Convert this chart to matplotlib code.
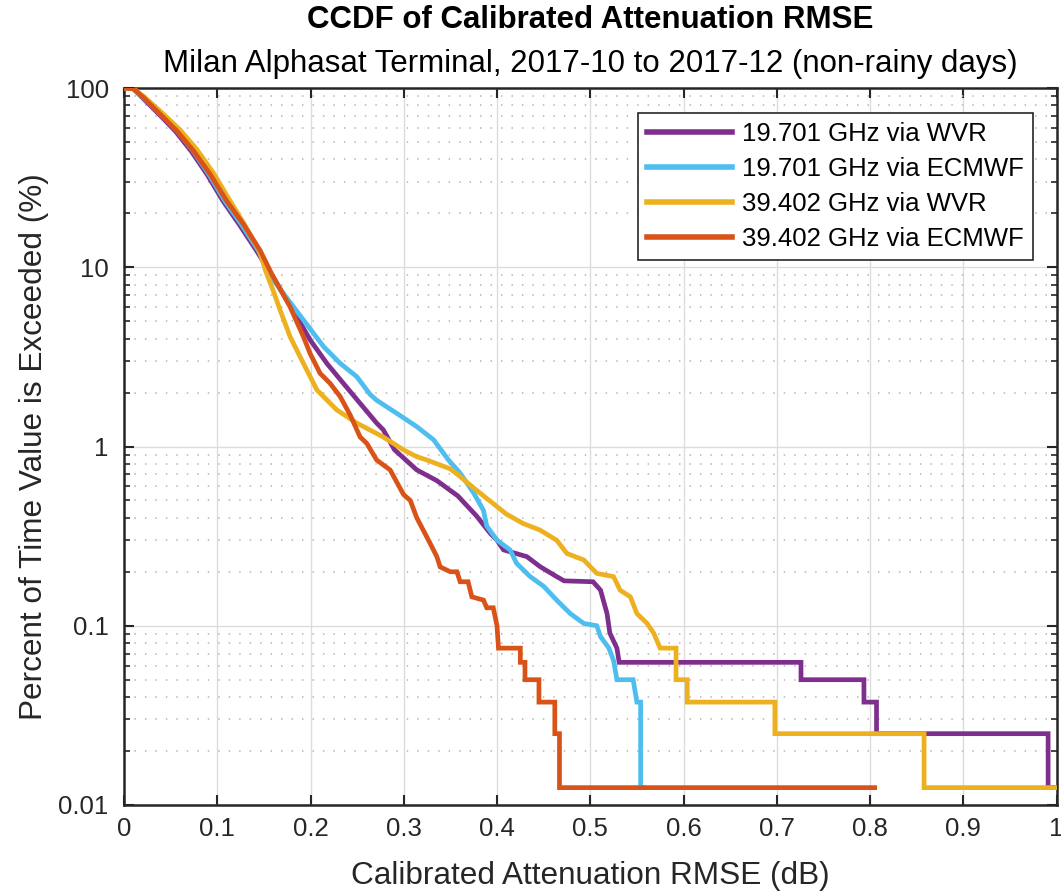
import matplotlib
matplotlib.use("Agg")
import matplotlib.pyplot as plt
from matplotlib.ticker import FixedLocator, LogLocator, NullFormatter

plt.rcParams['font.family'] = ['Liberation Sans', 'DejaVu Sans']

# ---------------- data ----------------
labels = ["19.701 GHz via WVR", "19.701 GHz via ECMWF",
          "39.402 GHz via WVR", "39.402 GHz via ECMWF"]

wvr19_x = [0, 0.01, 0.02, 0.038, 0.055, 0.072, 0.089, 0.106, 0.124, 0.142,
           0.1638, 0.1853, 0.1996, 0.2175, 0.2353, 0.2532, 0.271, 0.278, 0.29,
           0.314, 0.3355, 0.358, 0.378, 0.3927, 0.40, 0.407, 0.432, 0.446,
           0.464, 0.472, 0.503, 0.511, 0.518, 0.521, 0.5286, 0.531, 0.726,
           0.726, 0.7935, 0.7935, 0.807, 0.807, 0.991, 0.991, 1.05]
wvr19_y = [100, 99, 88, 71, 57.5, 44.5, 33, 23.5, 17.2, 12.4,
           8.14, 5.3, 3.93, 2.91, 2.25, 1.74, 1.35, 1.24, 0.96,
           0.74, 0.645, 0.53, 0.41, 0.328, 0.30, 0.265, 0.243, 0.214,
           0.188, 0.178, 0.176, 0.158, 0.117, 0.091, 0.075, 0.0625, 0.0625,
           0.05, 0.05, 0.0375, 0.0375, 0.025, 0.025, 0.0125, 0.0125]

ecm19_x = [0, 0.01, 0.021, 0.039, 0.057, 0.074, 0.091, 0.108, 0.126, 0.144,
           0.160, 0.1924, 0.214, 0.2318, 0.2497, 0.264, 0.271, 0.2926, 0.314,
           0.332, 0.348, 0.3605, 0.375, 0.3855, 0.389, 0.40, 0.414, 0.421,
           0.4356, 0.45, 0.464, 0.4785, 0.493, 0.507, 0.511, 0.52, 0.525,
           0.5286, 0.546, 0.55, 0.554, 0.554, 0.557]
ecm19_y = [100, 99, 88, 71.5, 57.6, 44.6, 33, 23.5, 17.3, 12.4,
           8.49, 5.08, 3.61, 2.91, 2.45, 1.95, 1.81, 1.53, 1.29,
           1.09, 0.84, 0.71, 0.55, 0.44, 0.36, 0.30, 0.265, 0.223,
           0.188, 0.166, 0.139, 0.117, 0.103, 0.1, 0.087, 0.075, 0.064,
           0.05, 0.05, 0.0375, 0.0375, 0.0125, 0.0125]

wvr39_x = [0, 0.01, 0.022, 0.041, 0.06, 0.078, 0.096, 0.113, 0.129, 0.145,
           0.152, 0.16, 0.1674, 0.1781, 0.1924, 0.2068, 0.2282, 0.2497, 0.278,
           0.30, 0.314, 0.325, 0.35, 0.3605, 0.378, 0.396, 0.41, 0.428, 0.446,
           0.464, 0.475, 0.493, 0.507, 0.525, 0.532, 0.543, 0.55, 0.561,
           0.568, 0.575, 0.592, 0.592, 0.604, 0.604, 0.698, 0.698, 0.858,
           0.858, 1.05]
wvr39_y = [100, 99.5, 89, 72.5, 58.5, 45.5, 33.5, 23.8, 17.4, 12.4,
           9.5, 7.4, 5.77, 4.10, 2.91, 2.07, 1.60, 1.35, 1.13,
           0.956, 0.877, 0.84, 0.75, 0.68, 0.57, 0.48, 0.42, 0.372, 0.342,
           0.30, 0.253, 0.233, 0.196, 0.188, 0.158, 0.145, 0.117, 0.103,
           0.091, 0.075, 0.075, 0.05, 0.05, 0.0375, 0.0375, 0.025, 0.025,
           0.0125, 0.0125]

ecm39_x = [0, 0.01, 0.0207, 0.0386, 0.0565, 0.0744, 0.0923, 0.110, 0.128,
           0.146, 0.1585, 0.178, 0.1924, 0.1996, 0.2103, 0.221, 0.2318,
           0.2425, 0.2532, 0.2604, 0.271, 0.2854, 0.2997, 0.307, 0.314, 0.328,
           0.3355, 0.339, 0.35, 0.357, 0.3605, 0.369, 0.373, 0.3855, 0.389,
           0.396, 0.40, 0.4016, 0.425, 0.425, 0.43, 0.43, 0.445, 0.445, 0.462,
           0.462, 0.467, 0.467, 0.805]
ecm39_y = [100, 99, 88.7, 71.6, 57.8, 44.7, 33.1, 23.5, 17.4,
           12.4, 9.16, 6.03, 4.10, 3.3, 2.56, 2.25, 1.90,
           1.50, 1.13, 1.04, 0.84, 0.74, 0.54, 0.50, 0.40, 0.29,
           0.243, 0.213, 0.2, 0.2, 0.176, 0.176, 0.145, 0.139, 0.126,
           0.126, 0.1, 0.075, 0.075, 0.0625, 0.0625, 0.05, 0.05, 0.0375, 0.0375,
           0.025, 0.025, 0.0125, 0.0125]

x_ticks = [0, 0.1, 0.2, 0.3, 0.4, 0.5, 0.6, 0.7, 0.8, 0.9, 1]
x_tick_labels = ["0", "0.1", "0.2", "0.3", "0.4", "0.5", "0.6", "0.7", "0.8", "0.9", "1"]
y_ticks = [0.01, 0.1, 1, 10, 100]
y_tick_labels = ["0.01", "0.1", "1", "10", "100"]

colors = ["#7E2F8E", "#4DBEEE", "#EDB120", "#D95319"]

# ---------------- figure ----------------
W, H = 1061, 892
fig = plt.figure(figsize=(W / 100, H / 100), dpi=100)
ax = fig.add_axes([124 / W, (H - 805) / H, (1056.5 - 124) / W, (805 - 88) / H])

series = [(wvr19_x, wvr19_y), (ecm19_x, ecm19_y), (wvr39_x, wvr39_y), (ecm39_x, ecm39_y)]
for (xs, ys), c, lab in zip(series, colors, labels):
    ax.plot(xs, ys, color=c, lw=3.4, label=lab, solid_joinstyle='miter', zorder=3)

ax.set_yscale('log')
ax.set_xlim(0, 1)
ax.set_ylim(0.01, 100)
ax.xaxis.set_major_locator(FixedLocator(x_ticks))
ax.set_xticklabels(x_tick_labels)
ax.yaxis.set_major_locator(FixedLocator(y_ticks))
ax.set_yticklabels(y_tick_labels)
ax.yaxis.set_minor_locator(LogLocator(base=10, subs=range(2, 10)))
ax.yaxis.set_minor_formatter(NullFormatter())

ax.grid(True, which='major', color='#DCDCDC', lw=1.0, zorder=0)
ax.yaxis.grid(True, which='minor', color='#BEBEBE', lw=1.3, linestyle=(0, (0.8, 5)), zorder=0)
ax.set_axisbelow(True)

for s in ax.spines.values():
    s.set_color('#262626')
    s.set_linewidth(1.8)

ax.tick_params(axis='both', which='both', direction='in', top=True, right=True,
               colors='#262626', labelcolor='#262626', labelsize=18.5)
ax.tick_params(axis='both', which='major', length=7, width=1.5)
ax.tick_params(axis='y', which='minor', length=4, width=1.2)
ax.tick_params(axis='x', which='major', pad=9)
ax.tick_params(axis='y', which='major', pad=11)

ax.set_xlabel("Calibrated Attenuation RMSE (dB)", fontsize=22.7, color='#262626', labelpad=14)
ax.set_ylabel("Percent of Time Value is Exceeded (%)", fontsize=22.7, color='#262626', labelpad=7)

fig.text(590 / W, 1 - 20 / H, "CCDF of Calibrated Attenuation RMSE", ha='center', va='center',
         fontsize=22.5, fontweight='bold', color='black')
fig.text(590 / W, 1 - 64 / H, "Milan Alphasat Terminal, 2017-10 to 2017-12 (non-rainy days)",
         ha='center', va='center', fontsize=22.5, color='black')

leg = ax.legend(loc='upper right', bbox_to_anchor=((1033 - 124) / 932.5, (805 - 112.7) / 717),
                borderaxespad=0, fontsize=18.5, handlelength=3.3, handletextpad=0.4,
                labelspacing=0.43, borderpad=0.35, fancybox=False, framealpha=1,
                edgecolor='#262626')
leg.get_frame().set_linewidth(1.2)
for line in leg.get_lines():
    line.set_linewidth(4)

fig.savefig("out.png", dpi=100)
